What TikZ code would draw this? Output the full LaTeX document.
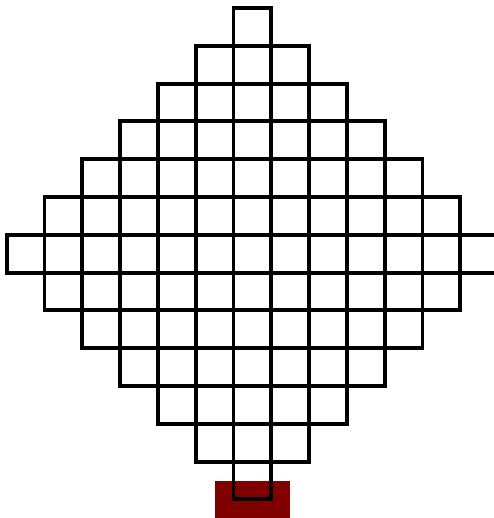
\documentclass[tikz,border=0pt]{standalone}
\usetikzlibrary{positioning}
\definecolor{basered}{RGB}{128,0,0}
\begin{document}
\begin{tikzpicture}[x=1cm,y=1cm]
    \tikzset{grid line/.style = {draw, line width=2.9pt, line cap=rect}}
    \tikzset{base/.style = {fill=basered}}
    \useasboundingbox (-6.677,-6.992) rectangle (6.392,6.712);
    \clip (-6.677,-6.992) rectangle (6.392,6.712);
    \fill[base] (-1,-6) rectangle (1,-7);
    \foreach \i in {-7,...,6} {
        \pgfmathtruncatemacro{\m}{6-min(abs(\i),abs(\i+1))}
        \draw[grid line] (-\m-0.5,\i+0.5) -- (\m+0.5,\i+0.5);
        \draw[grid line] (\i+0.5,-\m-0.5) -- (\i+0.5,\m+0.5);
    }
\end{tikzpicture}
\end{document}
